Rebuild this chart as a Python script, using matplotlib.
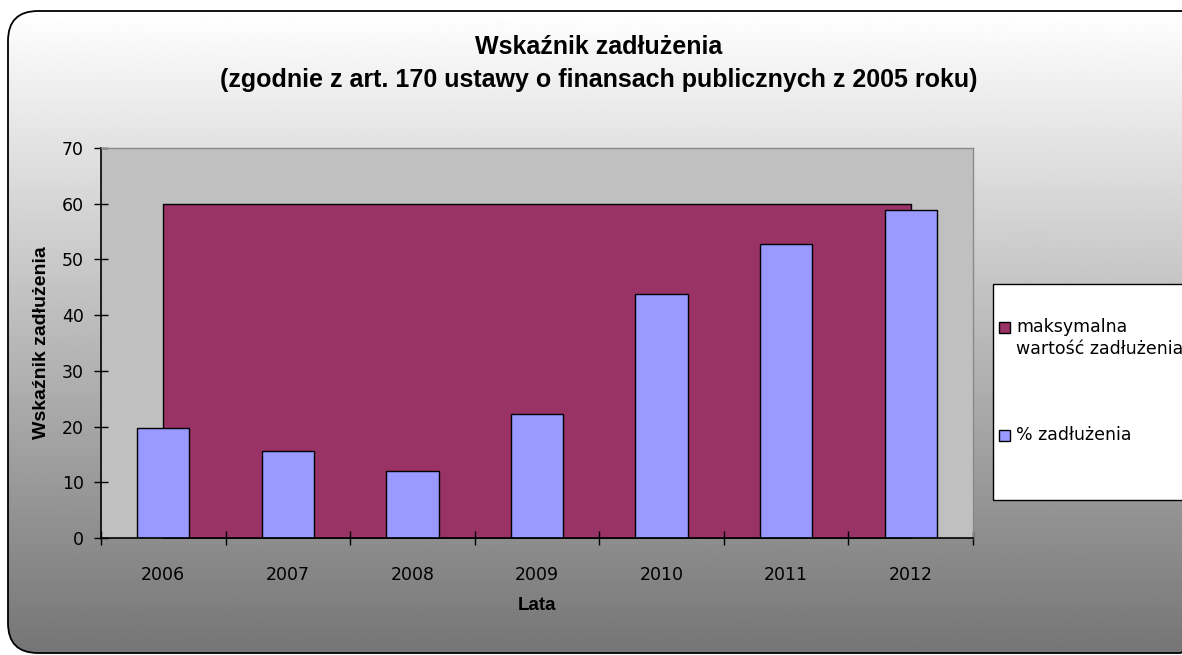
import matplotlib.pyplot as plt
import numpy as np
from matplotlib.patches import FancyBboxPatch, Rectangle

years = ['2006', '2007', '2008', '2009', '2010', '2011', '2012']
debt_pct = [19.7, 15.7, 12.0, 22.3, 43.8, 52.7, 58.9]
max_debt = [60, 60, 60, 60, 60, 60, 60]
labels = ['maksymalna\nwartość zadłużenia', '% zadłużenia']
colors = ['#993366', '#9999FF']

plt.rcParams['font.family'] = ['DejaVu Sans']

W, H = 1182, 655
fig = plt.figure(figsize=(W / 100, H / 100), dpi=100)

# background: rounded frame with vertical gradient (runs off the right edge)
bg = fig.add_axes([0, 0, 1, 1], zorder=0)
frame = FancyBboxPatch((8, 11), 1202, 642, boxstyle='round,pad=0,rounding_size=30',
                       facecolor='none', edgecolor='black', lw=1.3, zorder=3)
bg.add_patch(frame)
grad = np.linspace(1.0, 0.46, 256).reshape(-1, 1)
im = bg.imshow(grad, cmap='gray', vmin=0, vmax=1, extent=(8, 1210, 653, 11), aspect='auto')
im.set_clip_path(frame)

# legend box drawn by hand (key sits on the first text line, as in Excel)
bg.add_patch(Rectangle((993, 284), 260, 216, facecolor='white', edgecolor='black', lw=1, zorder=4))
key_y = [327.5, 435]
for lab, col, ky in zip(labels, colors, key_y):
    bg.add_patch(Rectangle((999, ky - 5.5), 11, 11, facecolor=col, edgecolor='black', lw=1, zorder=5))
    bg.text(1016, ky - 9, lab, ha='left', va='top', fontsize=12.5, linespacing=1.25, zorder=5)
bg.set_xlim(0, W)
bg.set_ylim(H, 0)
bg.axis('off')

# plot area
ax = fig.add_axes([101 / W, 117 / H, 872 / W, 390 / H], zorder=1)
ax.set_facecolor('#C0C0C0')
x = np.arange(len(years))
ax.fill_between(x, max_debt, color='#993366', edgecolor='black', lw=1)
ax.bar(x, debt_pct, width=0.42, color='#9999FF', edgecolor='black', lw=1)

ax.set_xlim(-0.5, 6.5)
ax.set_ylim(0, 70)
ax.set_yticks(range(0, 71, 10))
ax.set_xticks(np.arange(-0.5, 7, 1))
ax.set_xticklabels([])
ax.set_xticks(x, minor=True)
ax.set_xticklabels(years, minor=True)
ax.tick_params(axis='x', which='minor', length=0, pad=20, labelsize=12.5)
ax.tick_params(axis='x', which='major', direction='inout', length=10, width=1)
ax.tick_params(axis='y', direction='inout', length=10.5, width=1, labelsize=12.5, pad=7)
for s in ['left', 'bottom']:
    ax.spines[s].set_color('black')
    ax.spines[s].set_linewidth(1.2)
for s in ['top', 'right']:
    ax.spines[s].set_color('#8a8a8a')
    ax.spines[s].set_linewidth(1)

ax.set_xlabel('Lata', family='Liberation Sans', fontweight='bold', fontsize=13.5)
ax.xaxis.set_label_coords(0.5, -0.150)
ax.set_ylabel('Wskaźnik zadłużenia', family='Liberation Sans', fontweight='bold', fontsize=14)
ax.yaxis.set_label_coords(-0.058, 0.5)

fig.text(599 / W, 1 - 47 / H, 'Wskaźnik zadłużenia', ha='center', va='center',
         family='Liberation Sans', fontweight='bold', fontsize=18)
fig.text(599 / W, 1 - 80 / H, '(zgodnie z art. 170 ustawy o finansach publicznych z 2005 roku)',
         ha='center', va='center', family='Liberation Sans', fontweight='bold', fontsize=18)

fig.savefig('out.png', dpi=100)
